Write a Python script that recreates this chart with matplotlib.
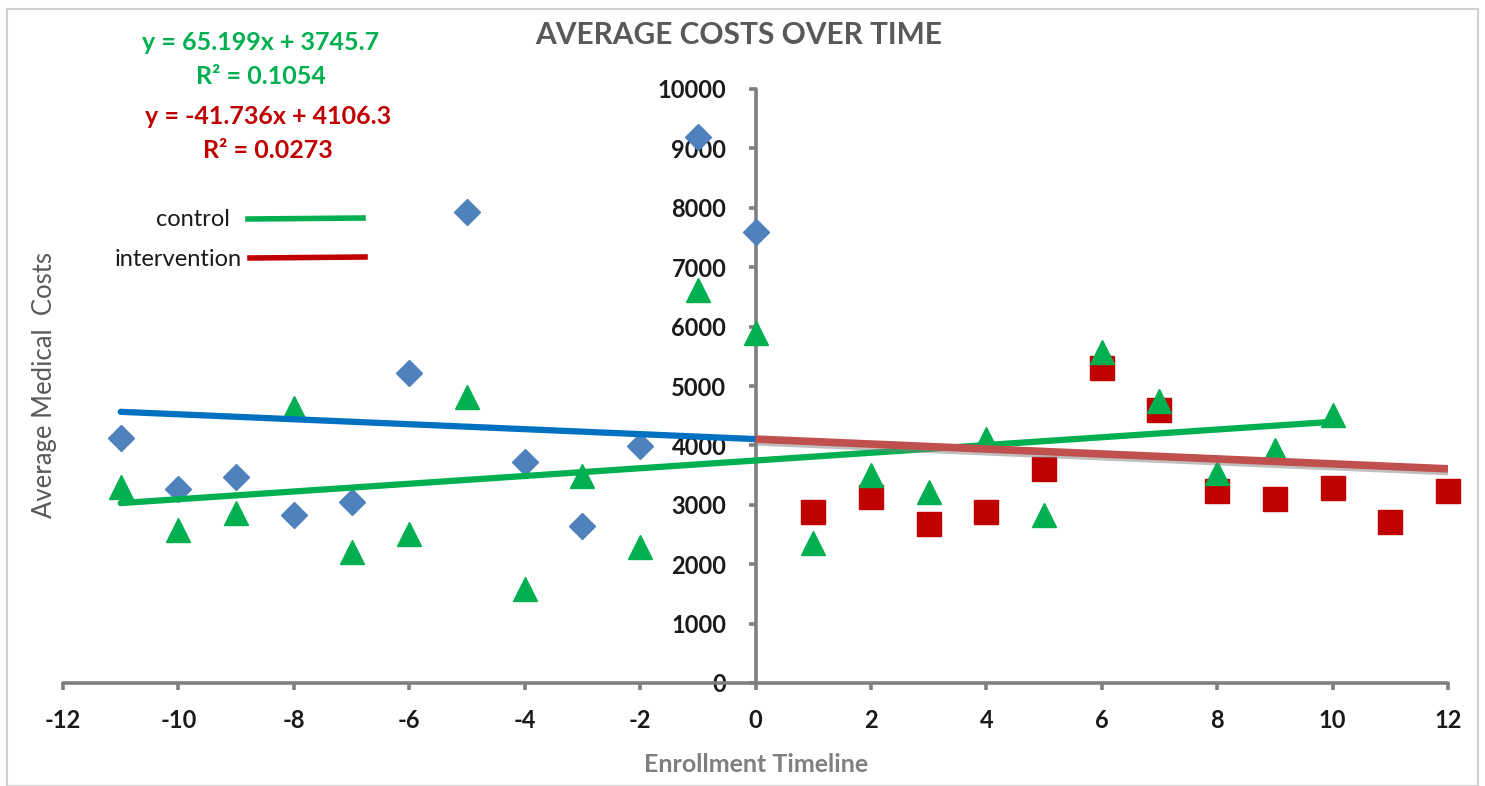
import matplotlib
matplotlib.use("Agg")
import matplotlib.pyplot as plt
import matplotlib.patheffects as pe
from matplotlib.lines import Line2D
from matplotlib.patches import Rectangle
import numpy as np

plt.rcParams['font.family'] = ['Lato', 'DejaVu Sans']

# ---- data ----
pre_months = [-11, -10, -9, -8, -7, -6, -5, -4, -3, -2, -1, 0]
pre_intervention = [4120, 3270, 3470, 2830, 3040, 5220, 7930, 3715, 2650, 3995, 9190, 7600]

control_months = [-11, -10, -9, -8, -7, -6, -5, -4, -3, -2, -1, 0,
                  1, 2, 3, 4, 5, 6, 7, 8, 9, 10]
control_costs = [3300, 2580, 2860, 4630, 2210, 2510, 4810, 1580, 3490, 2285, 6610, 5890,
                 2360, 3500, 3210, 4110, 2830, 5580, 4740, 3530, 3920, 4510]

post_months = [1, 2, 3, 4, 5, 6, 7, 8, 9, 10, 11, 12]
post_intervention = [2885, 3125, 2670, 2875, 3600, 5300, 4600, 3240, 3100, 3280, 2705, 3240]

control_fit = [65.199, 3745.7]      # slope, intercept
intervention_fit = [-41.736, 4106.3]
control_fit_range = [-11, 10]
intervention_pre_range = [-11, 0]
intervention_post_range = [0, 12]

x_ticks = list(range(-12, 13, 2))
y_ticks = list(range(0, 10001, 1000))

W, H = 1485, 786
fig = plt.figure(figsize=(W / 100, H / 100), dpi=100)
fig.patch.set_facecolor('white')

ax = fig.add_axes([63 / W, (H - 683) / H, (1448 - 63) / W, (683 - 89) / H])
ax.set_xlim(-12, 12)
ax.set_ylim(0, 10000)
ax.patch.set_alpha(0)

for s in ['top', 'right']:
    ax.spines[s].set_visible(False)
ax.spines['left'].set_position(('data', 0))
ax.spines['bottom'].set_position(('data', 0))
for s in ['left', 'bottom']:
    ax.spines[s].set_color('#7f7f7f')
    ax.spines[s].set_linewidth(2.6)
    ax.spines[s].set_capstyle('round')

ax.set_xticks(x_ticks)
ax.set_yticks(y_ticks)
ax.set_xticklabels([str(v) for v in x_ticks])
ax.set_yticklabels([str(v) for v in y_ticks])
ax.tick_params(axis='both', direction='out', length=5, width=2.6, color='#7f7f7f',
               labelsize=17, labelcolor='#1a1a1a')
ax.tick_params(axis='y', pad=16)
ax.tick_params(axis='x', pad=14)
for lab in ax.get_xticklabels() + ax.get_yticklabels():
    lab.set_fontweight('bold')

# markers
ax.plot(pre_months, pre_intervention, linestyle='none', marker='D', ms=13,
        color='#4f81bd', zorder=3, clip_on=False)
ax.plot(post_months, post_intervention, linestyle='none', marker='s', ms=17,
        color='#c00000', zorder=3, clip_on=False)
ax.plot(control_months, control_costs, linestyle='none', marker='^', ms=17,
        color='#00b050', zorder=4, clip_on=False)

# trend lines
def fit_line(coef, rng):
    xs = np.array(rng, dtype=float)
    return xs, coef[0] * xs + coef[1]

xs, ys = fit_line(intervention_fit, intervention_pre_range)
ax.plot(xs, ys, color='#0070c0', lw=4.5, solid_capstyle='round', zorder=5)
xs, ys = fit_line(intervention_fit, intervention_post_range)
ax.plot(xs, ys, color='#c0504d', lw=5.5, solid_capstyle='butt', zorder=6,
        path_effects=[pe.SimpleLineShadow(offset=(1, -2), shadow_color='#808080', alpha=0.5),
                      pe.Normal()])
xs, ys = fit_line(control_fit, control_fit_range)
ax.plot(xs, ys, color='#00b050', lw=4.5, solid_capstyle='round', zorder=5)

# titles / labels
fig.text(739 / W, 1 - 35 / H, 'AVERAGE COSTS OVER TIME', ha='center', va='center',
         fontsize=21.5, fontweight='bold', color='#595959')
fig.text(756 / W, 1 - 765 / H, 'Enrollment Timeline', ha='center', va='center',
         fontsize=18, fontweight='bold', color='#7f7f7f')
fig.text(45 / W, 1 - 385 / H, 'Average Medical  Costs', ha='center', va='center',
         rotation=90, fontsize=18.5, color='#595959')

# regression equations
fig.text(261 / W, 1 - 43 / H, 'y = 65.199x + 3745.7', ha='center', va='center',
         fontsize=18, fontweight='bold', color='#00b050')
fig.text(261 / W, 1 - 77 / H, 'R² = 0.1054', ha='center', va='center',
         fontsize=18, fontweight='bold', color='#00b050')
fig.text(268 / W, 1 - 117 / H, 'y = -41.736x + 4106.3', ha='center', va='center',
         fontsize=18, fontweight='bold', color='#c00000')
fig.text(268 / W, 1 - 151 / H, 'R² = 0.0273', ha='center', va='center',
         fontsize=18, fontweight='bold', color='#c00000')

# manual legend
fig.text(230 / W, 1 - 220 / H, 'control', ha='right', va='center', fontsize=17, color='#1a1a1a')
fig.text(242 / W, 1 - 259 / H, 'intervention', ha='right', va='center', fontsize=17, color='#1a1a1a')
fig.add_artist(Line2D([248 / W, 363 / W], [1 - 219 / H, 1 - 218 / H], color='#00b050', lw=4,
                      transform=fig.transFigure))
fig.add_artist(Line2D([250 / W, 365 / W], [1 - 258 / H, 1 - 257 / H], color='#c00000', lw=4,
                      transform=fig.transFigure))

# border
fig.add_artist(Rectangle((7 / W, 0), (1478 - 7) / W, 1 - 9 / H, transform=fig.transFigure,
                         fill=False, edgecolor='#d0d0d0', lw=1.5))

fig.savefig('out.png', dpi=100)
